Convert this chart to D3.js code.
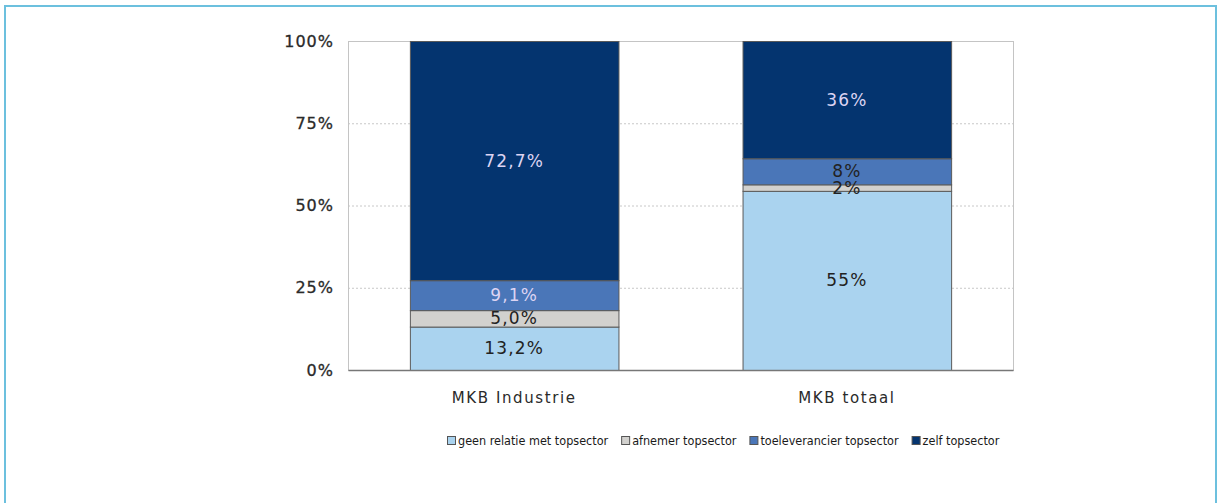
<!DOCTYPE html>
<html>
<head>
<meta charset="utf-8">
<script src="https://cdn.jsdelivr.net/npm/d3@7"></script>
<style>
  body { margin: 0; background: #fff; }
  svg { display: block; font-family: "DejaVu Sans", Verdana, sans-serif; }
</style>
</head>
<body>
<svg id="chart" width="1221" height="503"></svg>
<script>
/* data */
const categories = ["MKB Industrie", "MKB totaal"];
const seriesNames = ["geen relatie met topsector", "afnemer topsector", "toeleverancier topsector", "zelf topsector"];
const geenRelatie = [13.2, 55];
const afnemer = [5.0, 2];
const toeleverancier = [9.1, 8];
const zelf = [72.7, 36];
const labelText = [
  ["13,2%", "5,0%", "9,1%", "72,7%"],
  ["55%", "2%", "8%", "36%"]
];
const yTicks = [0, 0.25, 0.5, 0.75, 1];

const colors = ["#aad3ef", "#d2d1ce", "#4a76b8", "#04346f"];
const labelColors = [
  ["#222", "#222", "#ddd4f3", "#ddd4f3"],
  ["#222", "#222", "#222", "#ddd4f3"]
];

const svgEl = document.getElementById("chart");
const svg = d3.select(svgEl);

/* outer frame */
svg.append("rect").attr("x", 5).attr("y", 6).attr("width", 1211).attr("height", 520)
  .attr("fill", "none").attr("stroke", "#6cc0de").attr("stroke-width", 2);

const margin = { top: 41, left: 348 };
const innerW = 665, innerH = 329;
const g = svg.append("g").attr("transform", `translate(${margin.left},${margin.top})`);

/* normalised stacked rows */
const rows = categories.map((c, i) => {
  const vals = [geenRelatie[i], afnemer[i], toeleverancier[i], zelf[i]];
  const total = d3.sum(vals);
  const row = { cat: c, idx: i };
  seriesNames.forEach((s, k) => row[s] = vals[k] / total);
  return row;
});
const stacked = d3.stack().keys(seriesNames)(rows);

const x = d3.scaleBand().domain(categories).range([0, innerW]).paddingInner(0.373).paddingOuter(0.186);
const y = d3.scaleLinear().domain([0, 1]).range([innerH, 0]);

/* grid */
g.selectAll("line.grid").data(yTicks.filter(t => t > 0 && t < 1)).join("line")
  .attr("class", "grid")
  .attr("x1", 0).attr("x2", innerW)
  .attr("y1", d => y(d) + 0.5).attr("y2", d => y(d) + 0.5)
  .attr("stroke", "#c8c8c8").attr("stroke-dasharray", "2,2");

/* plot frame */
g.append("rect").attr("x", 0.5).attr("y", 0.5).attr("width", innerW).attr("height", innerH)
  .attr("fill", "none").attr("stroke", "#c4c4c4");

/* bars */
stacked.forEach((layer, k) => {
  g.selectAll(`rect.s${k}`).data(layer).join("rect")
    .attr("class", `s${k}`)
    .attr("x", d => x(d.data.cat) + 0.5)
    .attr("width", x.bandwidth())
    .attr("y", d => y(d[1]) + 0.5)
    .attr("height", d => y(d[0]) - y(d[1]))
    .attr("fill", colors[k])
    .attr("stroke", "#5a5a5a").attr("stroke-width", 1);
});

/* labels */
stacked.forEach((layer, k) => {
  g.selectAll(`text.l${k}`).data(layer).join("text")
    .attr("class", `l${k}`)
    .attr("x", d => x(d.data.cat) + x.bandwidth() / 2)
    .attr("y", d => (y(d[0]) + y(d[1])) / 2 + 6)
    .attr("text-anchor", "middle")
    .attr("font-size", 17)
    .attr("letter-spacing", 1.2)
    .attr("fill", d => labelColors[d.data.idx][k])
    .text(d => labelText[d.data.idx][k]);
});

/* axes */
const yAxis = g.append("g").call(d3.axisLeft(y).tickValues(yTicks).tickSize(0).tickPadding(14).tickFormat(d3.format(".0%")));
yAxis.select(".domain").remove();
yAxis.selectAll("text").attr("font-size", 16).attr("letter-spacing", 1).attr("fill", "#2a2a2a")
  .attr("font-family", "DejaVu Sans").attr("stroke", "#2a2a2a").attr("stroke-width", 0.3);

const xAxis = g.append("g").attr("transform", `translate(0,${innerH})`)
  .call(d3.axisBottom(x).tickSize(0).tickPadding(22));
xAxis.select(".domain").attr("stroke", "#777").attr("stroke-width", 1.5);
xAxis.selectAll("text").attr("font-size", 15).attr("letter-spacing", 1.6).attr("fill", "#2a2a2a")
  .attr("font-family", "DejaVu Sans");

/* legend */
const legend = svg.append("g").attr("transform", "translate(447,441)");
let lx = 0;
seriesNames.forEach((s, k) => {
  const item = legend.append("g").attr("transform", `translate(${lx},0)`);
  item.append("rect").attr("x", 0.5).attr("y", -4.5).attr("width", 8).attr("height", 8)
    .attr("fill", colors[k]).attr("stroke", "#555");
  const t = item.append("text").attr("x", 11).attr("y", 4)
    .attr("font-size", 12.5).attr("fill", "#1a1a1a")
    .attr("font-family", "DejaVu Sans Condensed, DejaVu Sans")
    .text(s);
  lx += 11 + t.node().getComputedTextLength() + 13;
});
</script>
</body>
</html>
